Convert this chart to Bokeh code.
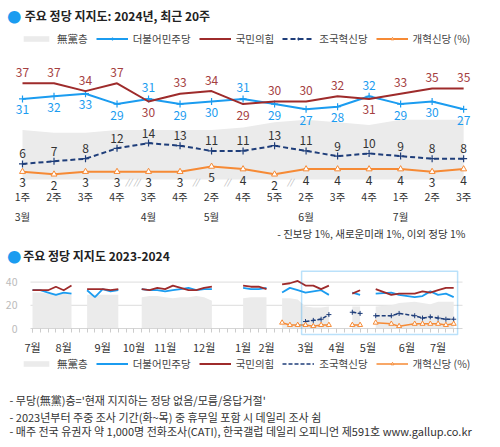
import numpy as np
from bokeh.plotting import figure
from bokeh.layouts import column
from bokeh.models import FixedTicker, LinearAxis, Range1d, Label, Legend, LegendItem, BoxAnnotation
from bokeh.core.properties import value
from bokeh.embed import file_html
from bokeh.resources import INLINE

FONT = "Noto Sans CJK KR"
BLUE = "#1B9CF0"
RED = "#9E2B2B"
RED_TXT = "#A5403F"
NAVY = "#1F3E7A"
ORANGE = "#F68A35"
GRAY = "#EBEBEB"
TXT = "#333333"

# ---------------- top chart: 2024, recent 20 weeks ----------------
week_labels = ["1주", "2주", "3주", "4주", "3주", "4주", "2주", "4주", "5주", "2주", "3주", "4주", "1주", "2주", "3주"]
month_labels = ["3월", "3월", "3월", "3월", "4월", "4월", "5월", "5월", "5월", "6월", "6월", "6월", "7월", "7월", "7월"]
dem = [31, 32, 33, 29, 31, 29, 30, 31, 29, 27, 28, 32, 29, 30, 27]
ppp = [37, 37, 34, 37, 30, 33, 34, 29, 30, 30, 32, 31, 33, 35, 35]
cho = [6, 7, 8, 12, 14, 13, 11, 11, 13, 11, 9, 10, 9, 8, 8]
ref = [3, 2, 3, 3, 3, 3, 5, 4, 2, 4, 4, 4, 4, 3, 4]
nonp = [19, 18, 18, 19, 19, 19, 19, 20, 22, 23, 22, 21, 23, 23, 23]
# week index (from 2023-07 1st week) of the 2024 points, and line segment ids
wk24 = [35, 36, 37, 38, 41, 42, 44, 46, 47, 49, 50, 51, 52, 53, 54]
seg24 = [5, 5, 5, 5, 6, 6, 7, 7, 7, 7, 7, 7, 7, 7, 7]

# ---------------- bottom chart: 2023-2024 weekly ----------------
wk23 = [0, 1, 2, 3, 4, 5, 7, 8, 9, 10, 11, 14, 15, 16, 17, 18, 19, 20, 21, 22, 23, 27, 28, 29, 30, 32, 33, 34]
seg23 = [1] * 6 + [2] * 5 + [3] * 10 + [4] * 4 + [5] * 3
dem23 = [33, 33, 31, 29, 31, 30, 33, 27, 34, 32, 33, 34, 33, 33, 32, 33, 34, 35, 33, 34, 34, 35, 34, 34, 35, 31, 35, 33]
ppp23 = [33, 33, 33, 36, 33, 37, 34, 34, 34, 33, 34, 34, 33, 35, 34, 37, 35, 33, 33, 35, 36, 37, 36, 36, 34, 38, 39, 41]
none23 = [31, 31, 30, 30, 30, 29, 29, 29, 29, 29, 29, 27, 28, 28, 27, 26, 27, 27, 28, 27, 24, 26, 27, 27, 27, 26, 26, 25]
ref_wk23 = [32, 33, 34]
ref23 = [5, 3, 3]
ref_seg23 = [5, 5, 5]
month_ticks = [0, 4, 9, 13, 17, 22, 27, 30, 35, 39, 43, 48, 52]
month_names = ["7월", "8월", "9월", "10월", "11월", "12월", "1월", "2월", "3월", "4월", "5월", "6월", "7월"]
y_ticks2 = [0, 20, 40]

legend_names = ["無黨층", "더불어민주당", "국민의힘", "조국혁신당", "개혁신당 (%)"]
title1 = "주요 정당 지지도: 2024년, 최근 20주"
title2 = "주요 정당 지지도 2023-2024"
note1 = "- 진보당 1%, 새로운미래 1%, 이외 정당 1%"
notes2 = ["- 무당(無黨)층='현재 지지하는 정당 없음/모름/응답거절'",
          "- 2023년부터 주중 조사 기간(화~목) 중 휴무일 포함 시 데일리 조사 쉼",
          "- 매주 전국 유권자 약 1,000명 전화조사(CATI), 한국갤럽 데일리 오피니언 제591호 www.gallup.co.kr"]


def make_legend(p, items, loc):
    lg = Legend(items=[LegendItem(label=n, renderers=r) for n, r in zip(legend_names, items)],
                location=loc, orientation="horizontal", padding=0, margin=0, spacing=8,
                border_line_color=None, background_fill_alpha=0, glyph_width=32, glyph_height=7,
                label_height=12, label_standoff=5, label_text_font=FONT, label_text_font_size="10.5px",
                label_text_color="#444444", label_text_baseline="middle")
    p.add_layout(lg)


def add_title(p, text, bx, x, y):
    p.add_layout(Label(x=bx, y=y, x_units="screen", y_units="screen", text="●", text_color=BLUE,
                       text_font=FONT, text_font_size="14px", text_baseline="middle", text_align="center"))
    p.add_layout(Label(x=x, y=y, x_units="screen", y_units="screen", text=text, text_color="#222222",
                       text_font=FONT, text_font_size="12px", text_font_style="bold", text_baseline="middle"))


def bare_figure(w, h, xr, yr):
    p = figure(frame_width=w, frame_height=h, x_range=xr, y_range=yr, output_backend="svg",
               toolbar_location=None, x_axis_location=None, y_axis_location=None,
               min_border=0, min_border_left=0, min_border_right=0, min_border_top=0,
               min_border_bottom=0, outline_line_color=None)
    p.grid.visible = False
    return p


def style_axis(a, size, color):
    a.axis_line_color = None
    a.major_tick_line_color = None
    a.minor_tick_line_color = None
    a.major_label_text_font = FONT
    a.major_label_text_font_size = size
    a.major_label_text_color = color


# ================= TOP FIGURE =================
idx = list(range(len(dem)))
p1 = bare_figure(500, 244, Range1d(-0.698, 15.17), Range1d(-25.0, 68.85))

r_none = p1.varea(x=idx, y1=0, y2=nonp, fill_color=GRAY)
r_dem = p1.line(idx, dem, line_color=BLUE, line_width=2)
r_dem_m = p1.scatter(idx, dem, marker="cross", size=7, line_color=BLUE, line_width=1.2)
r_ppp = p1.line(idx, ppp, line_color=RED, line_width=2)
r_cho = p1.line(idx, cho, line_color=NAVY, line_width=2, line_dash="5 3")
r_cho_m = p1.scatter(idx, cho, marker="cross", size=7, line_color=NAVY, line_width=1.2)
r_ref = p1.line(idx, ref, line_color=ORANGE, line_width=2)
r_ref_m = p1.scatter(idx, ref, marker="triangle", size=6, line_color=ORANGE, fill_color="white", line_width=1)

dem_off = [-11 if d > r else 11 for d, r in zip(dem, ppp)]
ppp_off = [-11 if r >= d else 11 for d, r in zip(dem, ppp)]
lab_kw = dict(text_align="center", text_baseline="middle", text_font=value(FONT), text_font_size="12px")
p1.text(x=idx, y=dem, text=[str(v) for v in dem], y_offset=dem_off, text_color=BLUE, **lab_kw)
p1.text(x=idx, y=ppp, text=[str(v) for v in ppp], y_offset=ppp_off, text_color=RED_TXT, **lab_kw)
p1.text(x=idx, y=cho, text=[str(v) for v in cho], y_offset=-10, text_color=TXT, **lab_kw)
p1.text(x=idx, y=ref, text=[str(v) for v in ref], y_offset=11, text_color=TXT, **lab_kw)

skip = [b - a - 1 for a, b in zip(wk24[:-1], wk24[1:])]
gx = [i + 0.5 for i, s in enumerate(skip) if s > 0]
gt = [" ".join(["//"] * s) for s in skip if s > 0]
p1.text(x=gx, y=0, text=gt, y_offset=2, text_align="center", text_baseline="middle",
        text_font=value(FONT), text_font_size="8px", text_color="#aaaaaa", text_font_style="italic")

ax = LinearAxis(fixed_location=0, ticker=FixedTicker(ticks=idx),
                major_label_overrides={i: t for i, t in enumerate(week_labels)}, major_label_standoff=3)
m_idx = [i for i in idx if i == 0 or month_labels[i] != month_labels[i - 1]]
ax2 = LinearAxis(fixed_location=0, ticker=FixedTicker(ticks=m_idx),
                 major_label_overrides={i: month_labels[i] for i in m_idx}, major_label_standoff=23)
for a in (ax, ax2):
    style_axis(a, "10.5px", TXT)
    p1.add_layout(a, "below")

add_title(p1, title1, 13.7, 24.3, 229)
make_legend(p1, [[r_none], [r_dem, r_dem_m], [r_ppp], [r_cho, r_cho_m], [r_ref, r_ref_m]], (20, 198))
p1.add_layout(Label(x=465, y=11, x_units="screen", y_units="screen", text=note1, text_align="right",
                    text_baseline="middle", text_font=FONT, text_font_size="10.5px", text_color=TXT))


# ================= BOTTOM FIGURE =================
def broken(ws, vs, segs):
    xs, ys, prev = [], [], None
    for w, v, s in zip(ws, vs, segs):
        if prev is not None and s != prev:
            xs.append(np.nan)
            ys.append(np.nan)
        xs.append(w)
        ys.append(v)
        prev = s
    return xs, ys


all_wk = wk23 + wk24
all_seg = seg23 + seg24
dem_all = dem23 + dem
ppp_all = ppp23 + ppp
none_all = none23 + nonp

p2 = bare_figure(500, 202, Range1d(-4.103, 60.0), Range1d(-101.7, 72.4))
gx0, gx1 = -0.256, 55.13   # extent of the plotting area (weeks)

p2.segment(x0=gx0, x1=gx1, y0=y_ticks2[1:], y1=y_ticks2[1:], line_color="#dddddd", line_width=1)

area_rs = []
for s in sorted(set(all_seg)):
    xs = [w for w, g in zip(all_wk, all_seg) if g == s]
    ys = [v for v, g in zip(none_all, all_seg) if g == s]
    area_rs.append(p2.varea(x=xs, y1=0, y2=ys, fill_color=GRAY))

bx, by = broken(all_wk, dem_all, all_seg)
b_dem = p2.line(bx, by, line_color=BLUE, line_width=1.8)
bx, by = broken(all_wk, ppp_all, all_seg)
b_ppp = p2.line(bx, by, line_color=RED, line_width=1.8)
bx, by = broken(wk24, cho, seg24)
b_cho = p2.line(bx, by, line_color=NAVY, line_width=1.5, line_dash="4 2")
b_cho_m = p2.scatter(wk24, cho, marker="cross", size=5, line_color=NAVY, line_width=1)
bx, by = broken(ref_wk23 + wk24, ref23 + ref, ref_seg23 + seg24)
b_ref = p2.line(bx, by, line_color=ORANGE, line_width=1.5)
b_ref_m = p2.scatter(ref_wk23 + wk24, ref23 + ref, marker="triangle", size=5, line_color=ORANGE,
                     fill_color="white", line_width=1)

p2.add_layout(BoxAnnotation(left=wk24[0] - 0.5, right=wk24[-1] + 0.5, bottom=-5.2, top=49.4,
                            fill_alpha=0, line_color=BLUE, line_width=1.5))

xa = LinearAxis(fixed_location=0, bounds=(gx0, gx1),
                ticker=FixedTicker(ticks=month_ticks, minor_ticks=list(range(0, 55))),
                major_label_overrides={t: n for t, n in zip(month_ticks, month_names)},
                major_label_standoff=6)
style_axis(xa, "11px", TXT)
xa.axis_line_color = "#d5d5d5"
xa.major_tick_line_color = "#cccccc"
xa.minor_tick_line_color = "#cccccc"
xa.major_tick_in = 0
xa.major_tick_out = 4
xa.minor_tick_in = 0
xa.minor_tick_out = 4
p2.add_layout(xa, "below")

ya = LinearAxis(fixed_location=gx0, bounds=(0, 40), ticker=FixedTicker(ticks=y_ticks2), major_label_standoff=7)
style_axis(ya, "10.5px", "#bbbbbb")
p2.add_layout(ya, "left")

add_title(p2, title2, 13.7, 22.7, 191)
make_legend(p2, [[area_rs[0]], [b_dem], [b_ppp], [b_cho], [b_ref, b_ref_m]], (20, 75))
for t, yy in zip(notes2, [47, 29.5, 15.5]):
    p2.add_layout(Label(x=9, y=yy, x_units="screen", y_units="screen", text=t, text_baseline="middle",
                        text_font=FONT, text_font_size="11px", text_color=TXT))

layout = column(p1, p2, spacing=0)
open("out.html", "w").write(file_html(layout, INLINE))
